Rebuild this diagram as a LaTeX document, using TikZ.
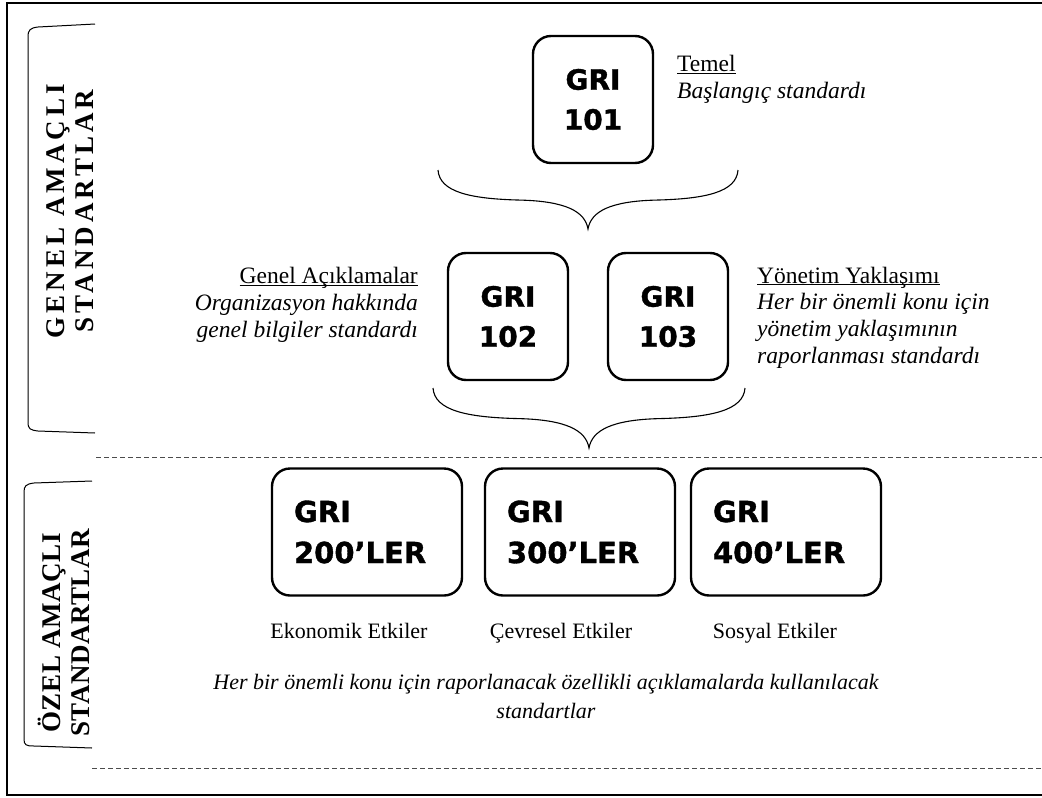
\documentclass[tikz,border=0pt]{standalone}
\usepackage{fontspec}
\setmainfont{Liberation Serif}
\newfontfamily\grifont[FakeBold=1.2]{DejaVu Sans Bold}
\usetikzlibrary{positioning}

\newcommand{\undl}[1]{\underline{\raisebox{0pt}[\height][0pt]{#1}}}

\begin{document}
\begin{tikzpicture}[x=1pt,y=-1pt,
  gribox/.style={draw,line width=2.4pt,rounded corners=18pt,minimum width=120pt,minimum height=127pt,inner sep=0pt,align=center,font=\grifont\fontsize{28}{40}\selectfont},
  widebox/.style={gribox,minimum width=190pt,text width=146pt,align=left,font=\grifont\fontsize{29}{41}\selectfont},
  note/.style={inner sep=0pt,font=\fontsize{23.5}{26.8}\selectfont},
  sidelabel/.style={rotate=90,inner sep=0pt,align=center}]
  \useasboundingbox (0,0) rectangle (1042,798);
  % frame
  \begin{scope}
    \clip (0,0) rectangle (1042,798);
    \draw[line width=1.8pt] (7,3) rectangle (1060,795);
  \end{scope}
  % section separators
  \draw[dashed,dash pattern=on 5pt off 3pt,black!70,line width=0.8pt] (96,457) coordinate (sepa) -- (1042,457);
  \draw[dashed,dash pattern=on 5pt off 3pt,black!70,line width=0.8pt] (92,768) coordinate (sepb) -- (1042,768);
  % left brackets
  \draw[line width=1pt] (95,24) -- (38,27) .. controls (30,28) and (28,30) .. (28,37) -- (28,422) .. controls (28,429) and (30,430) .. (38,431) -- (95,433);
  \draw[line width=1pt] (92,481) -- (34,483) .. controls (26,484) and (24,486) .. (24,492) -- (24,739) .. controls (24,745) and (26,746) .. (34,746) -- (92,748);
  \node[sidelabel,font=\bfseries\fontsize{27}{29}\selectfont\addfontfeature{LetterSpace=15}] (genel amacli) at (70,211) {GENEL AMAÇLI\\STANDARTLAR};
  \node[sidelabel,font=\bfseries\fontsize{27}{29}\selectfont\addfontfeature{LetterSpace=2}] (ozel amacli) at (64,633) {ÖZEL AMAÇLI\\STANDARTLAR};
  % general standards
  \node[gribox] (gri101) at (593,99.5) {GRI\\101};
  \node[gribox] (gri102) at (508,316.5) {GRI\\102};
  \node[gribox] (gri103) at (668,316.5) {GRI\\103};
  \node[note,anchor=base west,align=left] (temel) at (677,98.5) {\undl{Temel}\\\textit{Başlangıç standardı}};
  \node[note,anchor=base east,align=right] (aciklama) at (418,337) {\undl{Genel Açıklamalar}\\\textit{Organizasyon hakkında}\\\textit{genel bilgiler standardı}};
  \node[note,anchor=base west,align=left] (yonetim) at (757,363.5) {\undl{Yönetim Yaklaşımı}\\\textit{Her bir önemli konu için}\\\textit{yönetim yaklaşımının}\\\textit{raporlanması standardı}};
  % braces
  \foreach \cx/\cy/\hw/\dp in {588/170/150/59, 589/388/156/60}{
    \begin{scope}[shift={(\cx,\cy)},xscale=\hw,yscale=\dp]
      \draw[line width=1.1pt] (-1,0) .. controls (-0.99,0.37) and (-0.79,0.49) .. (-0.45,0.51)
        .. controls (-0.15,0.53) and (-0.02,0.7) .. (0,1)
        .. controls (0.02,0.7) and (0.15,0.53) .. (0.45,0.51)
        .. controls (0.79,0.49) and (0.99,0.37) .. (1,0);
    \end{scope}
  }
  % topic standards
  \node[widebox] (gri200) at (367,532) {GRI\\200’LER};
  \node[widebox] (gri300) at (580,532) {GRI\\300’LER};
  \node[widebox] (gri400) at (786,532) {GRI\\400’LER};
  \node[note,anchor=base,font=\fontsize{22}{26}\selectfont] (ekonomik) at (349,638) {Ekonomik Etkiler};
  \node[note,anchor=base,font=\fontsize{22}{26}\selectfont] (cevresel) at (561,638) {Çevresel Etkiler};
  \node[note,anchor=base,font=\fontsize{22}{26}\selectfont] (sosyal) at (775,638) {Sosyal Etkiler};
  \node[note,anchor=base,align=center,font=\fontsize{22}{29}\selectfont\itshape] (konu) at (546,718) {Her bir önemli konu için raporlanacak özellikli açıklamalarda kullanılacak\\standartlar};
\end{tikzpicture}
\end{document}
